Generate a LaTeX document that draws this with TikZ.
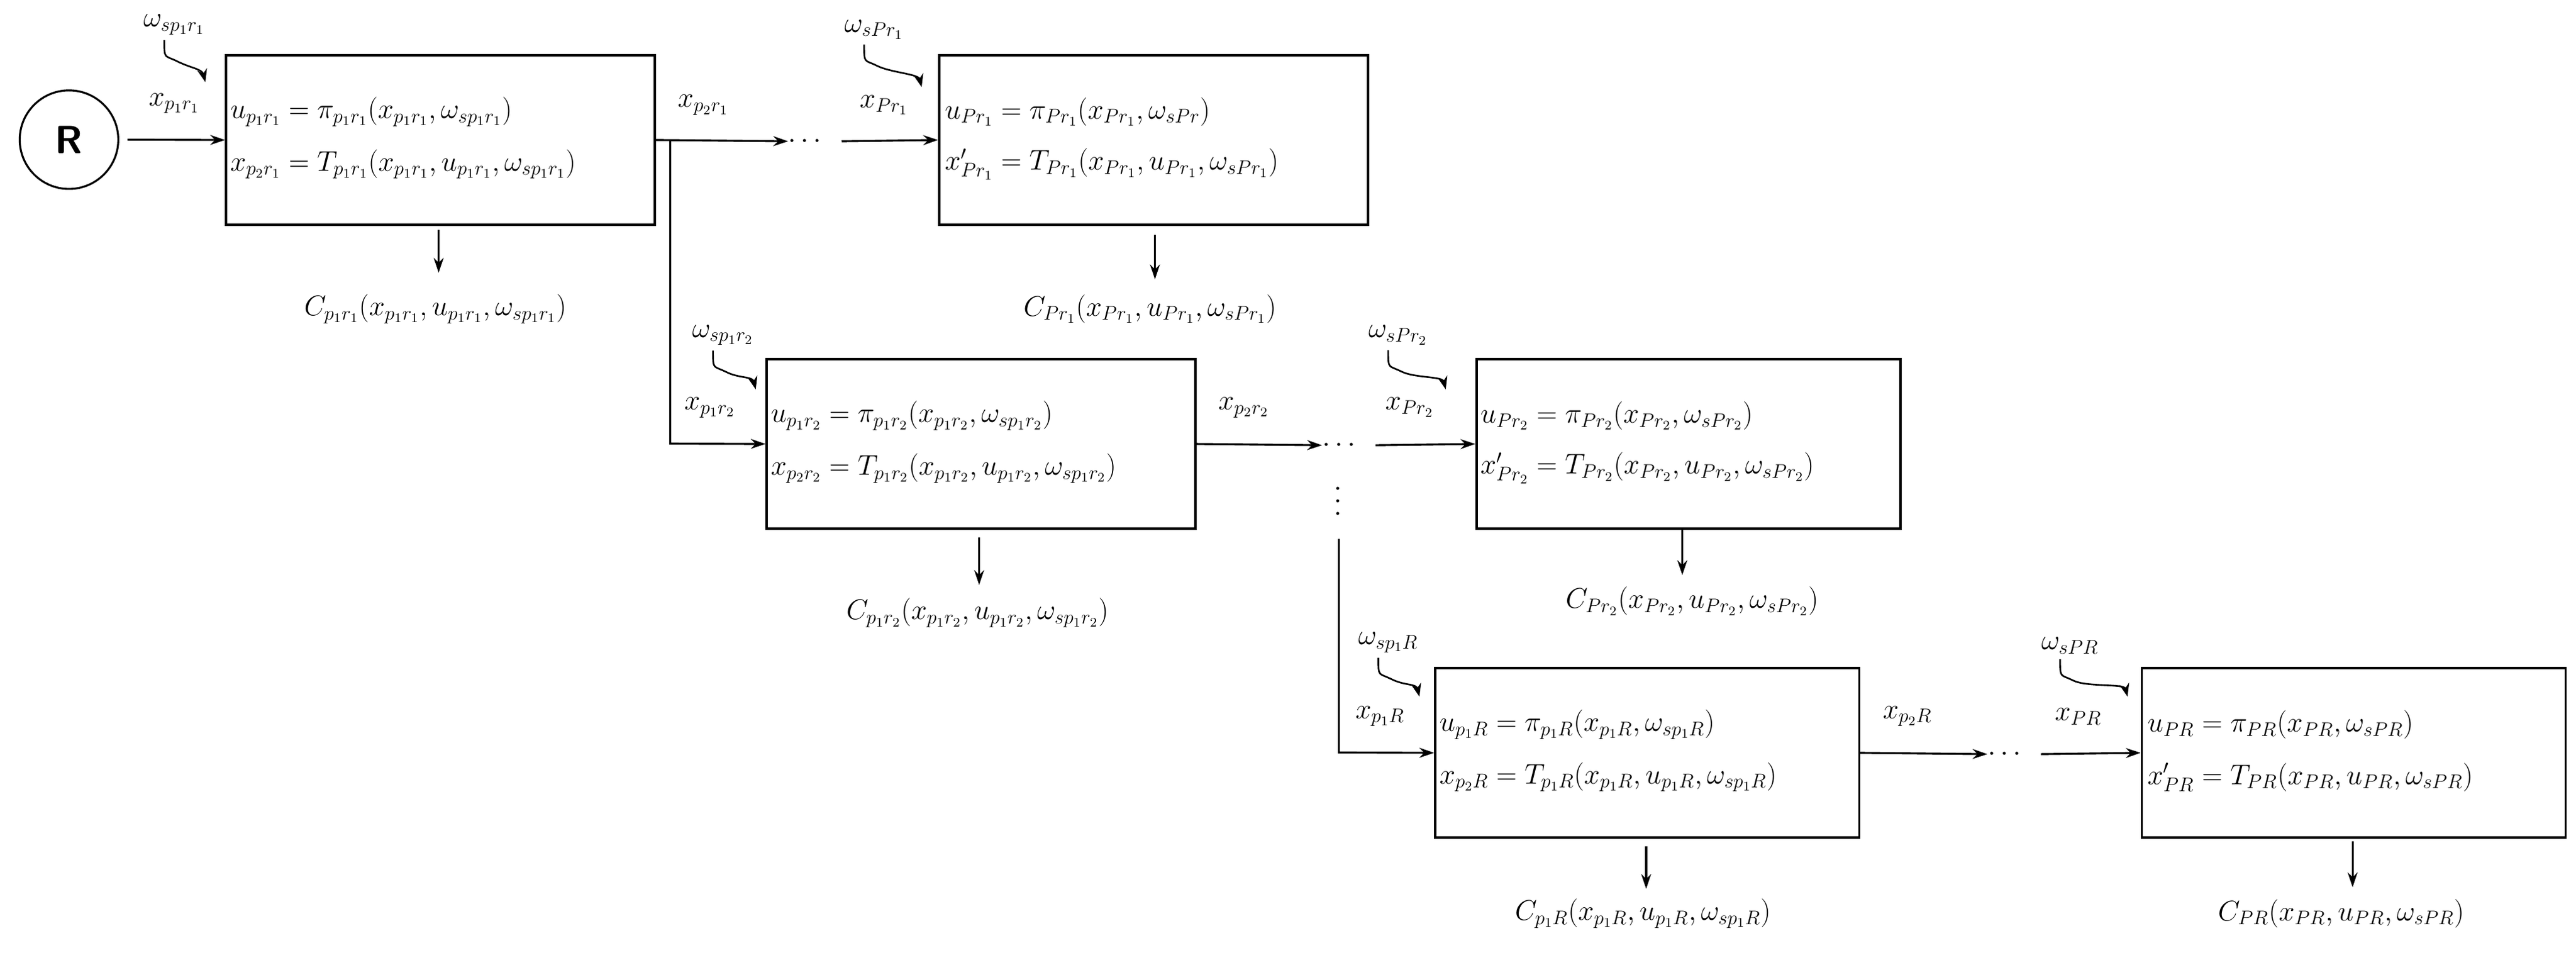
\documentclass[tikz,border=0pt]{standalone}
\usetikzlibrary{arrows.meta}
\begin{document}
\begin{tikzpicture}[x=1pt,y=-1pt,
  box/.style={draw,line width=1.4pt,minimum width=#1,minimum height=103pt,inner sep=0pt,anchor=north west},
  eq/.style={anchor=west,inner sep=0pt,font=\fontsize{17}{20}\selectfont},
  lab/.style={inner sep=0pt,font=\fontsize{17}{20}\selectfont},
  arr/.style={-{Stealth[length=9pt,width=6pt]},line width=1.2pt},
  sq/.style={-{Stealth[length=8pt,width=6pt]},line width=1pt},
  dots/.style={inner sep=0pt,font=\fontsize{17}{20}\selectfont}]
\useasboundingbox (0,0) rectangle (1568,581);
\node[draw,circle,line width=1.2pt,minimum size=60pt,inner sep=0pt,font=\sffamily\bfseries\fontsize{24}{28}\selectfont] (R) at (42,85) {R};

% boxes
\node[box=261pt] (b1) at (137,33) {};
\node[box=261pt] (b2) at (571,33) {};
\node[box=261pt] (b3) at (466,218) {};
\node[box=258pt] (b4) at (898,218) {};
\node[box=258pt] (b5) at (873,406) {};
\node[box=258pt] (b6) at (1303,406) {};

% equations
\node[eq] (e1a) at (140,68) {$u_{p_1r_1}=\pi_{p_1r_1}(x_{p_1r_1},\omega_{sp_1r_1})$};
\node[eq] (e1b) at (140,100) {$x_{p_2r_1}=T_{p_1r_1}(x_{p_1r_1},u_{p_1r_1},\omega_{sp_1r_1})$};
\node[eq] (e2a) at (575,68) {$u_{Pr_1}=\pi_{Pr_1}(x_{Pr_1},\omega_{sPr})$};
\node[eq] (e2b) at (575,100) {$x'_{Pr_1}=T_{Pr_1}(x_{Pr_1},u_{Pr_1},\omega_{sPr_1})$};
\node[eq] (e3a) at (469,253) {$u_{p_1r_2}=\pi_{p_1r_2}(x_{p_1r_2},\omega_{sp_1r_2})$};
\node[eq] (e3b) at (469,285) {$x_{p_2r_2}=T_{p_1r_2}(x_{p_1r_2},u_{p_1r_2},\omega_{sp_1r_2})$};
\node[eq] (e4a) at (901,253) {$u_{Pr_2}=\pi_{Pr_2}(x_{Pr_2},\omega_{sPr_2})$};
\node[eq] (e4b) at (901,285) {$x'_{Pr_2}=T_{Pr_2}(x_{Pr_2},u_{Pr_2},\omega_{sPr_2})$};
\node[eq] (e5a) at (876,441) {$u_{p_1R}=\pi_{p_1R}(x_{p_1R},\omega_{sp_1R})$};
\node[eq] (e5b) at (876,473) {$x_{p_2R}=T_{p_1R}(x_{p_1R},u_{p_1R},\omega_{sp_1R})$};
\node[eq] (e6a) at (1307,441) {$u_{PR}=\pi_{PR}(x_{PR},\omega_{sPR})$};
\node[eq] (e6b) at (1307,473) {$x'_{PR}=T_{PR}(x_{PR},u_{PR},\omega_{sPR})$};

% cost labels
\node[lab] (c1) at (265,188) {$C_{p_1r_1}(x_{p_1r_1},u_{p_1r_1},\omega_{sp_1r_1})$};
\node[lab] (c2) at (700,188) {$C_{Pr_1}(x_{Pr_1},u_{Pr_1},\omega_{sPr_1})$};
\node[lab] (c3) at (595,373) {$C_{p_1r_2}(x_{p_1r_2},u_{p_1r_2},\omega_{sp_1r_2})$};
\node[lab] (c4) at (1030,366) {$C_{Pr_2}(x_{Pr_2},u_{Pr_2},\omega_{sPr_2})$};
\node[lab] (c5) at (1000,556) {$C_{p_1R}(x_{p_1R},u_{p_1R},\omega_{sp_1R})$};
\node[lab] (c6) at (1425,556) {$C_{PR}(x_{PR},u_{PR},\omega_{sPR})$};
\coordinate (d1) at (267,140); \coordinate (d1e) at (267,166);
\coordinate (d2) at (703,143); \coordinate (d2e) at (703,170);
\coordinate (d3) at (596,327); \coordinate (d3e) at (596,356);
\coordinate (d4) at (1024,321); \coordinate (d4e) at (1024,350);
\coordinate (d5) at (1002,515); \coordinate (d5e) at (1002,541);
\coordinate (d6) at (1432,512); \coordinate (d6e) at (1432,540);
\foreach \i in {1,...,6} \draw[arr] (d\i) -- (d\i e);

% dots
\node[dots] (p1) at (490,86) {$\cdots$};
\node[dots] (p2) at (815,271) {$\cdots$};
\node[dots] (p3) at (1220,459) {$\cdots$};
\node[dots,rotate=90] (pv) at (815,305) {$\cdots$};

% horizontal flows
\draw[arr] (R.east) ++(5,0) coordinate (r0) -- (b1.west);
\node[lab] (lx1) at (106,63) {$x_{p_1r_1}$};
\coordinate (j1) at (408,85);
\draw[arr] (b1.east) -- (p1.west);
\node[lab] (lx2) at (428,64) {$x_{p_2r_1}$};
\draw[arr] (p1.east) ++(12,0) coordinate (q1) -- (b2.west);
\node[lab] (lx3) at (538,64) {$x_{Pr_1}$};

\coordinate (j2) at (408,270);
\draw[arr] (j1) -- (j2) -- (b3.west);
\node[lab] (lx4) at (432,248) {$x_{p_1r_2}$};
\draw[arr] (b3.east) -- (p2.west);
\node[lab] (lx5) at (757,248) {$x_{p_2r_2}$};
\draw[arr] (p2.east) ++(12,0) coordinate (q2) -- (b4.west);
\node[lab] (lx6) at (858,248) {$x_{Pr_2}$};

\coordinate (j3) at (815,328); \coordinate (j4) at (815,458);
\draw[arr] (j3) -- (j4) -- (b5.west);
\node[lab] (lx7) at (840,436) {$x_{p_1R}$};
\draw[arr] (b5.east) -- (p3.west);
\node[lab] (lx8) at (1161,436) {$x_{p_2R}$};
\draw[arr] (p3.east) ++(12,0) coordinate (q3) -- (b6.west);
\node[lab] (lx9) at (1265,436) {$x_{PR}$};

% noise labels and squiggles
\node[lab] (w1) at (106,15) {$\omega_{sp_1r_1}$};
\node[lab] (w2) at (532,18) {$\omega_{sPr_1}$};
\node[lab] (w3) at (440,204) {$\omega_{sp_1r_2}$};
\node[lab] (w4) at (851,204) {$\omega_{sPr_2}$};
\node[lab] (w5) at (845,391) {$\omega_{sp_1R}$};
\node[lab] (w6) at (1260,393) {$\omega_{sPR}$};
\foreach \w/\tx/\ty in {w1/125/50, w2/561/53, w3/460/237, w4/880/237, w5/864/424, w6/1295/424}{
  \draw[sq] ([xshift=-6pt,yshift=-3pt]\w.south) .. controls +(0,12) and +(-8,-4) .. +(8,13)
    .. controls +(8,4) and +(-2,-8) .. (\tx,\ty);
}
\end{tikzpicture}
\end{document}
